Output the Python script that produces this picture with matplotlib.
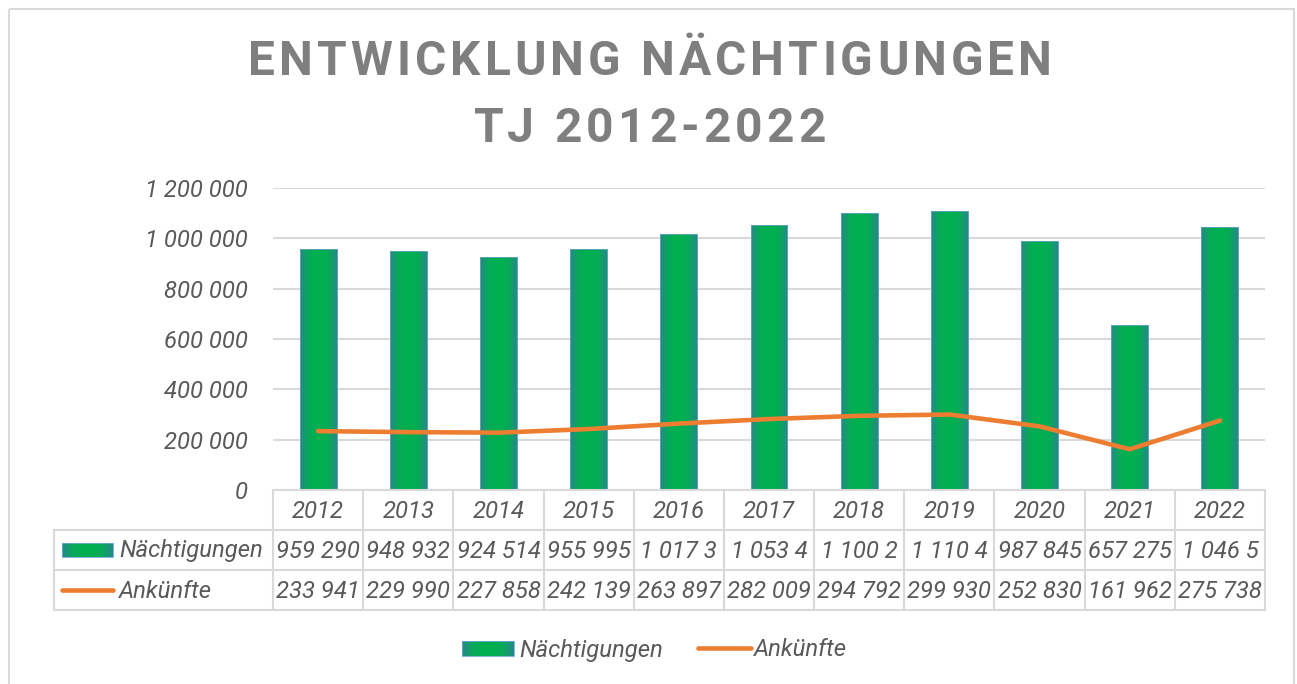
import matplotlib.pyplot as plt
import numpy as np
from matplotlib.colors import LinearSegmentedColormap
from matplotlib.patches import Rectangle

years = ['2012', '2013', '2014', '2015', '2016', '2017', '2018', '2019', '2020', '2021', '2022']
naechtigungen = [959290, 948932, 924514, 955995, 1017300, 1053400, 1100200, 1110400, 987845, 657275, 1046500]
ankuenfte = [233941, 229990, 227858, 242139, 263897, 282009, 294792, 299930, 252830, 161962, 275738]
# table cells as shown (wide values are clipped in the original)
naecht_labels = ['959 290', '948 932', '924 514', '955 995', '1 017 3', '1 053 4',
                 '1 100 2', '1 110 4', '987 845', '657 275', '1 046 5']
title_lines = ['ENTWICKLUNG NÄCHTIGUNGEN', 'TJ 2012-2022']

W, H, DPI = 1297, 684, 100
TXT = '#595959'
GRID = '#D9D9D9'
ORANGE = '#ED7D31'
FS = 17.2

plt.rcParams['font.family'] = ['Roboto', 'DejaVu Sans']

fig = plt.figure(figsize=(W / DPI, H / DPI), dpi=DPI)


def px_rect(l, t, r, b):
    return [l / W, 1 - b / H, (r - l) / W, (b - t) / H]


def thousands(v):
    return f'{v:,}'.replace(',', ' ')


cmap = LinearSegmentedColormap.from_list('bar', ['#00B050', '#08A85A', '#1A9676', '#238A88'])
grad = np.abs(np.linspace(-1, 1, 80))[None, :] ** 2

# main chart
ax = fig.add_axes(px_rect(273, 188, 1265, 490))
x = np.arange(len(years))
bars = ax.bar(x, naechtigungen, width=0.41, facecolor='none', edgecolor='#5AA5B5',
              linewidth=0.7, zorder=2.2)
for b in bars:
    x0 = b.get_x()
    im = ax.imshow(grad, extent=[x0, x0 + b.get_width(), 0, b.get_height()], aspect='auto',
                   cmap=cmap, vmin=0, vmax=1, interpolation='bilinear', zorder=2)
    im.set_clip_path(b)
ax.plot(x, ankuenfte, color=ORANGE, lw=3.3, solid_capstyle='round',
        solid_joinstyle='round', zorder=3)

ax.set_xlim(-0.5, len(years) - 0.5)
ax.set_ylim(0, 1200000)
ax.set_yticks(range(0, 1200001, 200000))
ax.set_yticklabels([thousands(v) for v in range(0, 1200001, 200000)],
                   fontsize=FS, style='italic', color=TXT)
ax.set_xticks([])
ax.tick_params(axis='y', length=0, pad=18)
ax.yaxis.grid(True, color=GRID, lw=1.5)
ax.set_axisbelow(True)
for s in ax.spines.values():
    s.set_visible(False)

# overlay in pixel coordinates for table, legend and title
pax = fig.add_axes([0, 0, 1, 1])
pax.set_xlim(0, W)
pax.set_ylim(H, 0)
pax.axis('off')

pax.add_patch(Rectangle((8.5, 8.5), 1285.5, 700, fill=False, edgecolor=GRID, lw=1.5))


def grad_patch(l, t, r, b):
    pax.imshow(grad, extent=[l, r, b, t], aspect='auto', cmap=cmap, vmin=0, vmax=1,
               interpolation='bilinear', zorder=2)
    pax.add_patch(Rectangle((l, t), r - l, b - t, fill=False, edgecolor='#6FA8DC', lw=0.6, zorder=3))


# data table
edges = [ax.transData.transform((i - 0.5, 0))[0] for i in range(len(years) + 1)]
rows = [490, 530, 570, 610]
tab_left = 54
pax.plot([edges[0], edges[-1]], [rows[0], rows[0]], color=GRID, lw=1.5)
for yy in rows[1:]:
    pax.plot([tab_left, edges[-1]], [yy, yy], color=GRID, lw=1.5)
for xe in edges:
    pax.plot([xe, xe], [rows[0], rows[-1]], color=GRID, lw=1.5)
pax.plot([tab_left, tab_left], [rows[1], rows[-1]], color=GRID, lw=1.5)

cell_kw = dict(fontsize=FS, style='italic', color=TXT, va='center', ha='center')
for i in range(len(years)):
    xc = (edges[i] + edges[i + 1]) / 2
    pax.text(xc, 512, years[i], **cell_kw)
    pax.text(xc, 551, naecht_labels[i], **cell_kw)
    pax.text(xc, 591, thousands(ankuenfte[i]), **cell_kw)

lab_kw = dict(fontsize=FS, style='italic', color=TXT, va='center', ha='left')
grad_patch(62, 543, 113, 557)
pax.text(119, 551, 'Nächtigungen', **lab_kw)
pax.plot([62, 113], [590, 590], color=ORANGE, lw=3.3, solid_capstyle='round')
pax.text(119, 591, 'Ankünfte', **lab_kw)

# legend
grad_patch(462, 641, 514, 656)
pax.text(519, 650, 'Nächtigungen', **lab_kw)
pax.plot([698, 751], [648, 648], color=ORANGE, lw=3.3, solid_capstyle='round')
pax.text(754, 650, 'Ankünfte', **lab_kw)

pax.set_xlim(0, W)
pax.set_ylim(H, 0)

# title with letter spacing
renderer = fig.canvas.get_renderer()
title_kw = dict(fontsize=34.5, fontweight='bold', color='#7F7F7F', va='baseline', ha='left')


def text_width(s):
    t = pax.text(0, 0, s, **title_kw)
    w = t.get_window_extent(renderer).width
    t.remove()
    return w


def spaced_text(s, xc, y, spacing):
    lefts = [text_width(s[:i + 1]) - text_width(s[i]) if s[i] != ' ' else 0 for i in range(len(s))]
    total = text_width(s) + (len(s) - 1) * spacing
    x0 = xc - total / 2
    for i, ch in enumerate(s):
        if ch != ' ':
            pax.text(x0 + lefts[i] + i * spacing, y, ch, **title_kw)


spacing = (804 - text_width(title_lines[0])) / (len(title_lines[0]) - 1)
spaced_text(title_lines[0], 650, 75, spacing)
spaced_text(title_lines[1], 649.5, 142, spacing)

fig.savefig('out.png', dpi=DPI)
